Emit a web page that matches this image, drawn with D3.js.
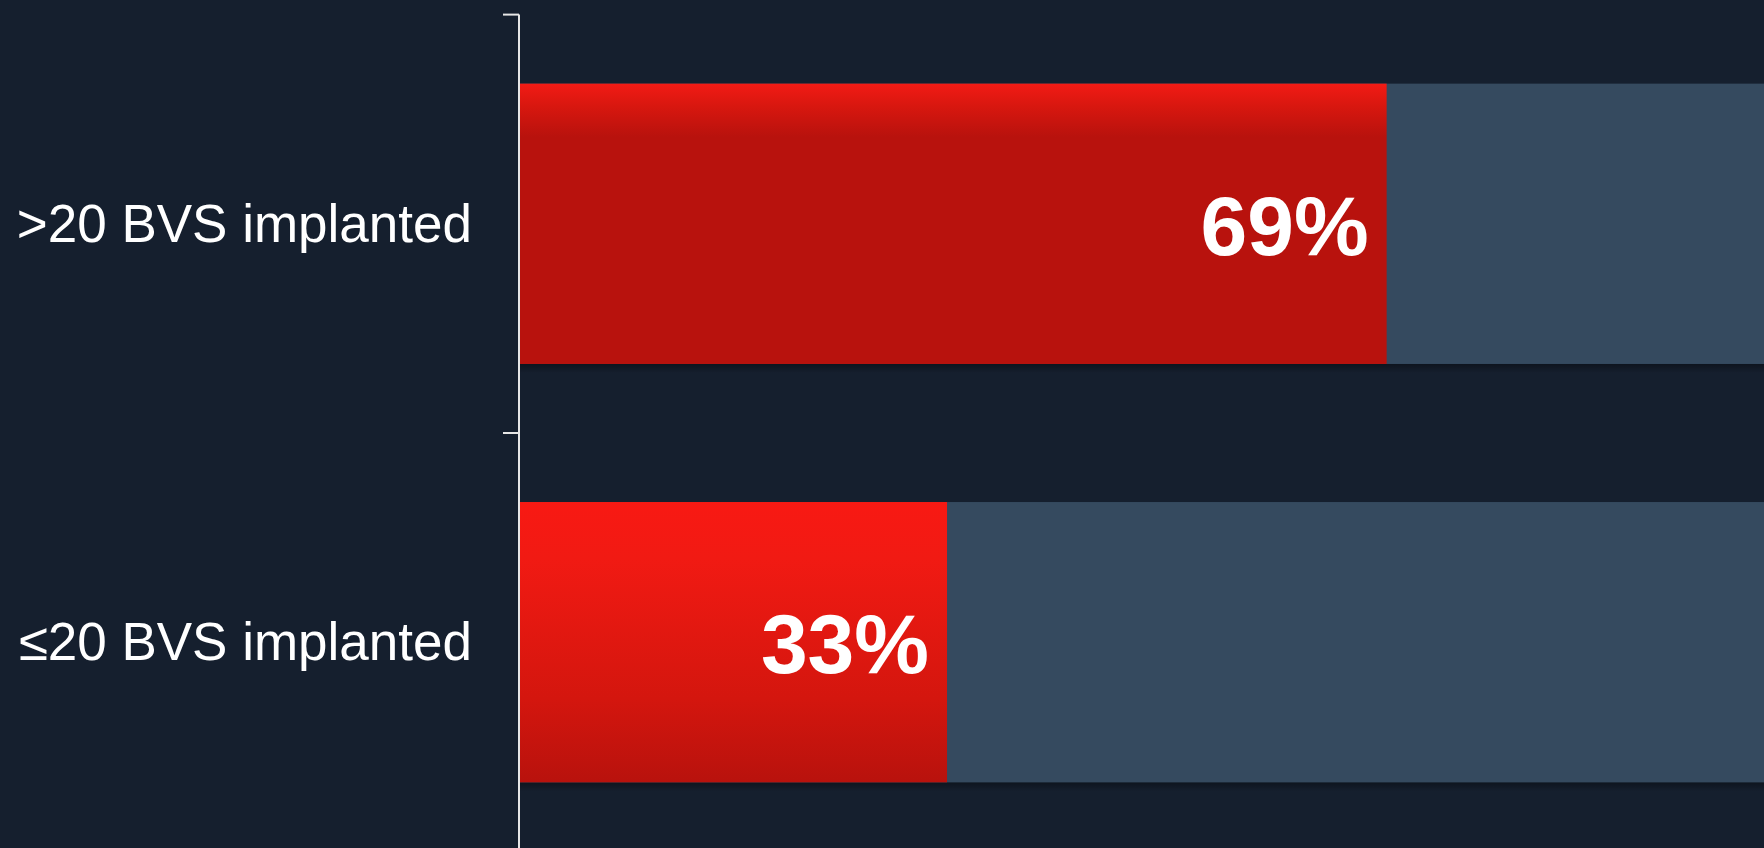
<!DOCTYPE html>
<html>
<head>
<meta charset="utf-8">
<script src="https://cdn.jsdelivr.net/npm/d3@7"></script>
<style>
  html, body { margin: 0; padding: 0; background: #151f2e; overflow: hidden; }
  svg { display: block; }
</style>
</head>
<body>
<div id="chart"></div>
<script>
const categories = ['>20 BVS implanted', '\u226420 BVS implanted']
const values = [69, 34]
const valueLabels = ['69%', '33%']
const totals = [100, 100]

const width = 1764,
  height = 848,
  margin = {top: 14.6, right: 0, bottom: 0, left: 519},
  bandStep = 418.4

const svg = d3.select('#chart').append('svg')
  .attr('width', width)
  .attr('height', height)

svg.append('rect')
  .attr('width', width)
  .attr('height', height)
  .attr('fill', '#151f2e')

const defs = svg.append('defs')
const g1 = defs.append('linearGradient').attr('id', 'red0')
  .attr('x1', 0).attr('y1', 0).attr('x2', 0).attr('y2', 1)
g1.append('stop').attr('offset', '0%').attr('stop-color', '#f21b15')
g1.append('stop').attr('offset', '8%').attr('stop-color', '#d8170f')
g1.append('stop').attr('offset', '19%').attr('stop-color', '#b8120d')
g1.append('stop').attr('offset', '100%').attr('stop-color', '#b8120d')
const g2 = defs.append('linearGradient').attr('id', 'red1')
  .attr('x1', 0).attr('y1', 0).attr('x2', 0).attr('y2', 1)
g2.append('stop').attr('offset', '0%').attr('stop-color', '#f81913')
g2.append('stop').attr('offset', '20%').attr('stop-color', '#f11a13')
g2.append('stop').attr('offset', '70%').attr('stop-color', '#d4160e')
g2.append('stop').attr('offset', '100%').attr('stop-color', '#b8120d')
const sh = defs.append('linearGradient').attr('id', 'shadow')
  .attr('x1', 0).attr('y1', 0).attr('x2', 0).attr('y2', 1)
sh.append('stop').attr('offset', '0%').attr('stop-color', '#000').attr('stop-opacity', 0.35)
sh.append('stop').attr('offset', '100%').attr('stop-color', '#000').attr('stop-opacity', 0)

const yScale = d3.scaleBand()
  .domain(categories)
  .range([margin.top, margin.top + bandStep * categories.length])
  .paddingInner(0.33)
  .paddingOuter(0.165)

const xScale = d3.scaleLinear()
  .domain([0, 100])
  .range([margin.left + 1, 1776])

const rows = categories.map((c, i) => ({cat: c, value: values[i], label: valueLabels[i], total: totals[i], i}))

const group = svg.append('g')

// shadows under bars
group.selectAll('.shadow')
  .data(rows)
  .enter().append('rect')
  .attr('x', xScale(0))
  .attr('y', d => yScale(d.cat) + yScale.bandwidth())
  .attr('width', d => xScale(d.total) - xScale(0))
  .attr('height', 9)
  .attr('fill', 'url(#shadow)')

group.selectAll('.bg-bar')
  .data(rows)
  .enter().append('rect')
  .attr('x', xScale(0))
  .attr('y', d => yScale(d.cat))
  .attr('width', d => xScale(d.total) - xScale(0))
  .attr('height', yScale.bandwidth())
  .attr('fill', '#354a5f')

group.selectAll('.bar')
  .data(rows)
  .enter().append('rect')
  .attr('x', xScale(0))
  .attr('y', d => yScale(d.cat))
  .attr('width', d => xScale(d.value) - xScale(0))
  .attr('height', yScale.bandwidth())
  .attr('fill', d => `url(#red${d.i})`)

group.selectAll('.val')
  .data(rows)
  .enter().append('text')
  .text(d => d.label)
  .attr('x', d => xScale(d.value) - 18)
  .attr('y', d => yScale(d.cat) + yScale.bandwidth() / 2 + 31)
  .style('text-anchor', 'end')
  .style('font-family', 'Liberation Sans, Arial, sans-serif')
  .style('font-weight', 'bold')
  .style('font-size', '84px')
  .attr('fill', '#ffffff')

// axis with ticks at band boundaries
const axisG = svg.append('g')
axisG.append('line')
  .attr('x1', margin.left).attr('x2', margin.left)
  .attr('y1', margin.top).attr('y2', height)
  .attr('stroke', '#e6e6e6')
  .attr('stroke-width', 2)
const tickYs = d3.range(categories.length + 1).map(i => margin.top + bandStep * i)
axisG.selectAll('.tick')
  .data(tickYs)
  .enter().append('line')
  .attr('x1', margin.left - 16).attr('x2', margin.left)
  .attr('y1', d => d).attr('y2', d => d)
  .attr('stroke', '#e6e6e6')
  .attr('stroke-width', 2)

svg.selectAll('.cat')
  .data(rows)
  .enter().append('text')
  .text(d => d.cat)
  .attr('x', 472)
  .attr('y', d => yScale(d.cat) + yScale.bandwidth() / 2 + 18)
  .style('text-anchor', 'end')
  .style('font-family', 'Liberation Sans, Arial, sans-serif')
  .style('font-size', '53px')
  .attr('fill', '#ffffff')
</script>
</body>
</html>
